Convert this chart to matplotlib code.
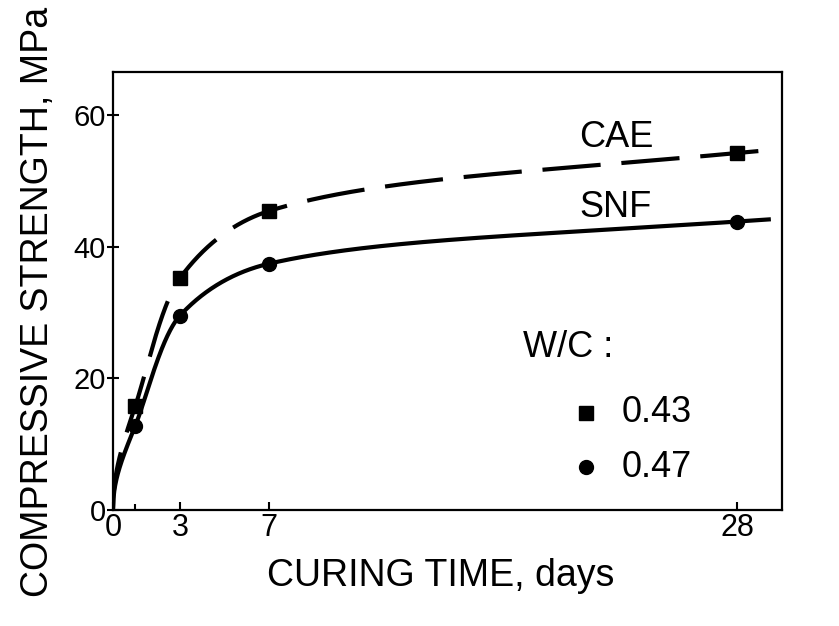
import numpy as np
import matplotlib
matplotlib.use("Agg")
import matplotlib.pyplot as plt

plt.rcParams['font.family'] = ['Liberation Sans', 'DejaVu Sans']

days = [1, 3, 7, 28]
cae = [15.8, 35.2, 45.4, 54.2]
snf = [12.8, 29.5, 37.4, 43.8]
xticks = [0, 3, 7, 28]
yticks = [0, 20, 40, 60]


def pchip(x, y, xn):
    """Monotone piecewise cubic Hermite interpolation with linear extrapolation."""
    x = np.asarray(x, float); y = np.asarray(y, float)
    h = np.diff(x); d = np.diff(y) / h
    m = np.zeros_like(y)
    for k in range(1, len(x) - 1):
        if d[k - 1] * d[k] > 0:
            w1 = 2 * h[k] + h[k - 1]; w2 = h[k] + 2 * h[k - 1]
            m[k] = (w1 + w2) / (w1 / d[k - 1] + w2 / d[k])
    m[0] = d[0]; m[-1] = d[-1]
    out = np.empty_like(xn)
    for i, xv in enumerate(xn):
        if xv >= x[-1]:
            out[i] = y[-1] + m[-1] * (xv - x[-1]); continue
        k = min(max(np.searchsorted(x, xv) - 1, 0), len(x) - 2)
        t = (xv - x[k]) / h[k]
        h00 = 2 * t**3 - 3 * t**2 + 1; h10 = t**3 - 2 * t**2 + t
        h01 = -2 * t**3 + 3 * t**2; h11 = t**3 - t**2
        out[i] = h00 * y[k] + h10 * h[k] * m[k] + h01 * y[k + 1] + h11 * h[k] * m[k + 1]
    return out


def smooth_curve(xd, yd, xn):
    # strength curve starts at zero at age zero; interpolate in sqrt(age)
    u = np.sqrt(np.concatenate([[0.0], xd]))
    v = np.concatenate([[0.0], yd])
    return pchip(u, v, np.sqrt(xn))


fig = plt.figure(figsize=(8.39, 6.26), dpi=100)
ax = fig.add_axes([113 / 839, 1 - 510 / 626, 669 / 839, 438 / 626])

xe = 29.5
xn = np.linspace(0, xe, 1500)
for vals, ls, mk in [(cae, (0, (14, 5)), 's'), (snf, '-', 'o')]:
    ax.plot(xn, smooth_curve(days, vals, xn), color='black',
            lw=3.0, ls=ls, solid_capstyle='butt', dash_capstyle='butt')
    ax.plot(days, vals, ls='none', marker=mk, color='black', ms=10)

ax.set_xlim(0, 30)
ax.set_ylim(0, 66.5)
ax.set_xticks(xticks)
ax.set_xticks([1], minor=True)
ax.set_yticks(yticks)
ax.tick_params(axis='x', which='major', direction='in', length=6, width=1.5,
               labelsize=22, pad=2)
ax.tick_params(axis='x', which='minor', direction='in', length=4, width=1.5)
ax.tick_params(axis='y', direction='inout', length=8, width=1.5, labelsize=21, pad=1)
for s in ax.spines.values():
    s.set_linewidth(1.6)

fig.text(441 / 839, 1 - 576 / 626, 'CURING TIME, days', fontsize=27,
         ha='center', va='center')
fig.text(38 / 839, 1 - 302 / 626, 'COMPRESSIVE STRENGTH, MPa', fontsize=27,
         ha='center', va='center', rotation=90)

ax.text(20.9, 56.5, 'CAE', fontsize=26, ha='left', va='center')
ax.text(20.9, 46.0, 'SNF', fontsize=26, ha='left', va='center')
ax.text(18.4, 24.7, 'W/C :', fontsize=26, ha='left', va='center')
ax.plot([21.2], [14.8], marker='s', color='black', ms=10, ls='none')
ax.text(22.8, 14.8, '0.43', fontsize=26, ha='left', va='center')
ax.plot([21.2], [6.5], marker='o', color='black', ms=10, ls='none')
ax.text(22.8, 6.5, '0.47', fontsize=26, ha='left', va='center')

fig.savefig('out.png', dpi=100)
